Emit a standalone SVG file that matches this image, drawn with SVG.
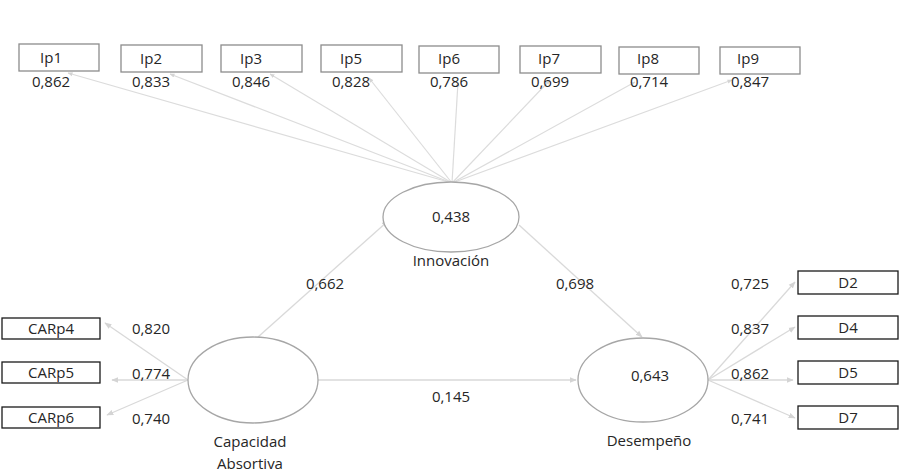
<svg xmlns="http://www.w3.org/2000/svg" width="899" height="476" viewBox="0 0 899 476">
<defs>
<marker id="ah" viewBox="0 0 10 10" refX="9" refY="5" markerWidth="7" markerHeight="7" orient="auto" markerUnits="userSpaceOnUse">
<path d="M0,1 L10,5 L0,9 z" fill="#d4d4d4"/>
</marker>
<marker id="ahs" viewBox="0 0 10 10" refX="9" refY="5" markerWidth="5" markerHeight="5" orient="auto" markerUnits="userSpaceOnUse">
<path d="M0,1 L10,5 L0,9 z" fill="#d4d4d4"/>
</marker>
<style>
text{font-family:"Open Sans","Liberation Sans",sans-serif;font-size:15px;fill:#262626;text-anchor:middle}
.ib{fill:#fff;stroke:#8c8c8c;stroke-width:1.3}
.bb{fill:#fff;stroke:#1a1a1a;stroke-width:1.3}
.el{fill:#fff;stroke:#a6a6a6;stroke-width:1.3}
.c{stroke:#d9d9d9;stroke-width:1.3;fill:none;marker-end:url(#ah)}
.cs{stroke:#dcdcdc;stroke-width:1.2;fill:none;marker-end:url(#ahs)}
</style>
</defs>
<g id="connectors">
<line class="cs" x1="452" y1="183" x2="68" y2="73"/>
<line class="cs" x1="452" y1="183" x2="170" y2="74"/>
<line class="cs" x1="452" y1="183" x2="270" y2="74"/>
<line class="cs" x1="452" y1="183" x2="369" y2="78"/>
<line class="cs" x1="452" y1="183" x2="458" y2="82"/>
<line class="cs" x1="452" y1="183" x2="550" y2="80"/>
<line class="cs" x1="452" y1="183" x2="635" y2="82"/>
<line class="cs" x1="452" y1="183" x2="732" y2="80"/>
<line class="c" x1="258" y1="337" x2="388" y2="221"/>
<line class="c" x1="519" y1="225" x2="642" y2="337"/>
<line class="c" x1="318" y1="380" x2="576" y2="380"/>
<line class="c" x1="188" y1="380" x2="105" y2="323"/>
<line class="c" x1="188" y1="380" x2="112" y2="380"/>
<line class="c" x1="188" y1="380" x2="107" y2="415"/>
<line class="c" x1="708" y1="380" x2="795" y2="282"/>
<line class="c" x1="708" y1="380" x2="795" y2="327"/>
<line class="c" x1="708" y1="380" x2="793" y2="380"/>
<line class="c" x1="708" y1="380" x2="795" y2="418"/>
<text x="51" y="87">0,862</text>
<text x="151" y="87">0,833</text>
<text x="251" y="87">0,846</text>
<text x="351" y="87">0,828</text>
<text x="449" y="87">0,786</text>
<text x="550" y="87">0,699</text>
<text x="649" y="87">0,714</text>
<text x="750" y="87">0,847</text>
<text x="325" y="289">0,662</text>
<text x="575" y="289">0,698</text>
<text x="451" y="402">0,145</text>
<text x="151" y="334">0,820</text>
<text x="151" y="379">0,774</text>
<text x="151" y="424">0,740</text>
<text x="750" y="289">0,725</text>
<text x="750" y="334">0,837</text>
<text x="750" y="379">0,862</text>
<text x="750" y="424">0,741</text>
</g>
<g id="Ip1"><rect class="ib" x="19" y="44" width="80" height="27"/><text x="51" y="63">Ip1</text></g>
<g id="Ip2"><rect class="ib" x="121" y="45" width="81" height="27"/><text x="151" y="64">Ip2</text></g>
<g id="Ip3"><rect class="ib" x="221" y="45" width="81" height="27"/><text x="251" y="64">Ip3</text></g>
<g id="Ip5"><rect class="ib" x="321" y="45" width="81" height="27"/><text x="351" y="64">Ip5</text></g>
<g id="Ip6"><rect class="ib" x="419" y="46" width="80" height="27"/><text x="449" y="64">Ip6</text></g>
<g id="Ip7"><rect class="ib" x="520" y="46" width="81" height="27"/><text x="549" y="64">Ip7</text></g>
<g id="Ip8"><rect class="ib" x="619" y="47" width="80" height="27"/><text x="648" y="64">Ip8</text></g>
<g id="Ip9"><rect class="ib" x="720" y="47" width="80" height="27"/><text x="748" y="64">Ip9</text></g>
<g id="Innovacion"><ellipse class="el" cx="451" cy="217" rx="68" ry="35"/><text x="451" y="222">0,438</text><text x="451" y="266">Innovación</text></g>
<g id="Capacidad"><ellipse class="el" cx="253" cy="380" rx="65" ry="43"/><text x="250" y="447">Capacidad</text><text x="250" y="469">Absortiva</text></g>
<g id="Desempeno"><ellipse class="el" cx="643" cy="380" rx="65" ry="42"/><text x="650" y="381">0,643</text><text x="649" y="446">Desempeño</text></g>
<g id="CARp4"><rect class="bb" x="2" y="318" width="98" height="21"/><text x="51" y="334">CARp4</text></g>
<g id="CARp5"><rect class="bb" x="2" y="362" width="98" height="21"/><text x="51" y="378">CARp5</text></g>
<g id="CARp6"><rect class="bb" x="2" y="407" width="98" height="21"/><text x="51" y="423">CARp6</text></g>
<g id="D2"><rect class="bb" x="798" y="271" width="100" height="23"/><text x="848" y="288">D2</text></g>
<g id="D4"><rect class="bb" x="798" y="316" width="100" height="23"/><text x="848" y="333">D4</text></g>
<g id="D5"><rect class="bb" x="798" y="361" width="100" height="23"/><text x="848" y="378">D5</text></g>
<g id="D7"><rect class="bb" x="798" y="406" width="100" height="23"/><text x="848" y="423">D7</text></g>
</svg>
